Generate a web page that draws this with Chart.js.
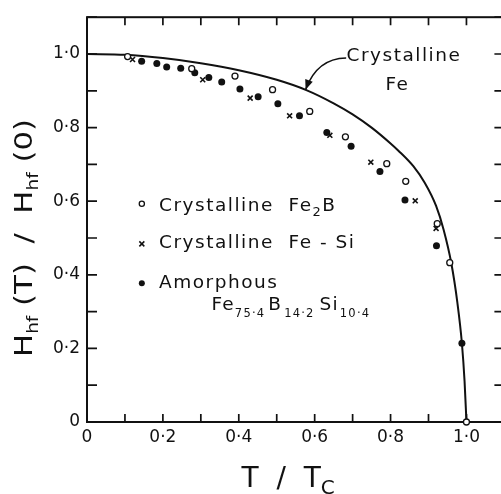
<!DOCTYPE html>
<html>
<head>
<meta charset="utf-8">
<script src="https://cdn.jsdelivr.net/npm/chart.js@4.4.1/dist/chart.umd.min.js"></script>
<style>
  html, body { margin: 0; padding: 0; background: #fff; overflow: hidden; }
  #caixa { width: 510px; height: 494px; }
</style>
</head>
<body>
<div id="caixa"><canvas id="graficoHf" width="510" height="494"></canvas></div>
<script>
// Valores (T/Tc e Hhf(T)/Hhf(0))
const fe2bT = [0.107, 0.276, 0.390, 0.489, 0.587, 0.681, 0.790, 0.840, 0.923, 0.956, 1.0];
const fe2bH = [0.993, 0.960, 0.940, 0.903, 0.844, 0.775, 0.702, 0.654, 0.539, 0.433, 0.0];

const feSiT = [0.120, 0.305, 0.430, 0.534, 0.640, 0.748, 0.865, 0.920];
const feSiH = [0.985, 0.930, 0.880, 0.832, 0.779, 0.706, 0.601, 0.526];

const amorfoT = [0.144, 0.184, 0.210, 0.247, 0.284, 0.321, 0.355, 0.403, 0.451, 0.503, 0.560, 0.632, 0.696, 0.772, 0.838, 0.921, 0.988];
const amorfoH = [0.980, 0.974, 0.965, 0.961, 0.949, 0.936, 0.924, 0.905, 0.884, 0.865, 0.832, 0.787, 0.749, 0.681, 0.603, 0.479, 0.214];

// curva do Fe cristalino
const curvaT = [0, 0.1, 0.2, 0.3, 0.4, 0.5, 0.578, 0.65, 0.70, 0.75, 0.80, 0.82, 0.86, 0.89, 0.92, 0.94, 0.96, 0.976, 0.988, 0.995, 1.0];
const curvaH = [1.0, 0.998, 0.989, 0.975, 0.956, 0.930, 0.902, 0.866, 0.836, 0.800, 0.757, 0.738, 0.695, 0.650, 0.587, 0.522, 0.432, 0.325, 0.214, 0.111, 0.0];

// rotulos dos ticks (so a cada 0.2)
const valoresRotulo = [0, 0.2, 0.4, 0.6, 0.8, 1.0];
const rotulosTick = ['0', '0·2', '0·4', '0·6', '0·8', '1·0'];

const pares = (xs, ys) => xs.map((v, i) => ({ x: v, y: ys[i] }));

const rotulo = (valor) => {
    const i = valoresRotulo.findIndex(v => Math.abs(v - valor) < 1e-6);
    return i >= 0 ? rotulosTick[i] : '';
};

const FONTE = '"DejaVu Sans", sans-serif';

// escreve texto com partes subscritas: [texto, tamanho, deslocamento, espaco antes]
function textoIndices(ctx, partes, x, y, alinhar) {
    let largura = 0;
    partes.forEach(p => {
        ctx.font = p[1] + 'px ' + FONTE;
        largura += ctx.measureText(p[0]).width + (p[3] || 0);
    });
    let cx = alinhar === 'center' ? x - largura / 2 : x;
    partes.forEach(p => {
        ctx.font = p[1] + 'px ' + FONTE;
        cx += p[3] || 0;
        ctx.fillText(p[0], cx, y + p[2]);
        cx += ctx.measureText(p[0]).width;
    });
    return largura;
}

// moldura e ticks para dentro
const moldura = {
    id: 'moldura',
    beforeDatasetsDraw(chart) {
        const { ctx, chartArea: a, scales: { x, y } } = chart;
        ctx.save();
        ctx.strokeStyle = '#111';
        ctx.lineWidth = 2;
        ctx.strokeRect(a.left, a.top, a.right - a.left, a.bottom - a.top);
        ctx.lineWidth = 1.7;
        ctx.beginPath();
        x.ticks.forEach(t => {
            const px = x.getPixelForValue(t.value);
            ctx.moveTo(px, a.bottom); ctx.lineTo(px, a.bottom - 8);
            ctx.moveTo(px, a.top); ctx.lineTo(px, a.top + 8);
        });
        y.ticks.forEach(t => {
            const py = y.getPixelForValue(t.value);
            ctx.moveTo(a.left, py); ctx.lineTo(a.left + 10, py);
            ctx.moveTo(a.right - 10, py); ctx.lineTo(a.right, py);
        });
        ctx.stroke();
        ctx.restore();
    }
};

// legenda, anotacao da curva e titulos dos eixos
const anotacoes = {
    id: 'anotacoes',
    afterDraw(chart) {
        const { ctx, scales: { x, y } } = chart;
        const X = v => x.getPixelForValue(v);
        const Y = v => y.getPixelForValue(v);
        ctx.save();
        ctx.fillStyle = '#111';
        ctx.strokeStyle = '#111';
        ctx.textBaseline = 'alphabetic';

        // legenda
        ctx.letterSpacing = '1.5px';
        const mx = X(0.1445);
        ctx.lineWidth = 1.3;
        ctx.beginPath(); ctx.arc(mx, Y(0.593), 2.6, 0, Math.PI * 2);
        ctx.fillStyle = '#fff'; ctx.fill(); ctx.stroke();
        ctx.fillStyle = '#111';
        ctx.lineWidth = 1.5;
        const cy = Y(0.484);
        ctx.beginPath();
        ctx.moveTo(mx - 2.5, cy - 2.5); ctx.lineTo(mx + 2.5, cy + 2.5);
        ctx.moveTo(mx + 2.5, cy - 2.5); ctx.lineTo(mx - 2.5, cy + 2.5);
        ctx.stroke();
        ctx.beginPath(); ctx.arc(mx, Y(0.377), 3, 0, Math.PI * 2); ctx.fill();

        const tx = X(0.19);
        textoIndices(ctx, [['Crystalline  Fe', 18.5, 0], ['2', 13, 5], ['B', 18.5, 0]], tx, Y(0.573));
        textoIndices(ctx, [['Crystalline  Fe - Si', 18.5, 0]], tx, Y(0.472));
        textoIndices(ctx, [['Amorphous', 18.5, 0]], tx, Y(0.365));
        ctx.letterSpacing = '1.2px';
        textoIndices(ctx, [['Fe', 18.5, 0], ['75·4', 11.5, 7], ['B', 18.5, 0, 3], ['14·2', 11.5, 7, 2],
            ['Si', 18.5, 0, 5], ['10·4', 11.5, 7, 1]], X(0.328), Y(0.303));

        // Crystalline Fe + seta
        ctx.letterSpacing = '1.5px';
        textoIndices(ctx, [['Crystalline', 18.5, 0]], X(0.684), Y(0.982));
        textoIndices(ctx, [['Fe', 18.5, 0]], X(0.818), Y(0.903), 'center');
        ctx.letterSpacing = '0px';
        const x0 = X(0.683), y0 = Y(0.989);
        const xc = X(0.606), yc = Y(0.988);
        const x1 = X(0.576), y1 = Y(0.903);
        ctx.lineWidth = 1.5;
        ctx.beginPath(); ctx.moveTo(x0, y0); ctx.quadraticCurveTo(xc, yc, x1, y1); ctx.stroke();
        const ang = Math.atan2(y1 - yc, x1 - xc);
        ctx.beginPath();
        ctx.moveTo(x1, y1);
        ctx.lineTo(x1 - 10 * Math.cos(ang) + 4 * Math.sin(ang), y1 - 10 * Math.sin(ang) - 4 * Math.cos(ang));
        ctx.lineTo(x1 - 10 * Math.cos(ang) - 4 * Math.sin(ang), y1 - 10 * Math.sin(ang) + 4 * Math.cos(ang));
        ctx.closePath(); ctx.fill();

        // titulo do eixo x
        textoIndices(ctx, [['T  /  T', 28, 0], ['C', 20, 7]], X(0.53), 486.5, 'center');

        // titulo do eixo y (girado)
        ctx.translate(31.5, Y(0.5));
        ctx.rotate(-Math.PI / 2);
        ctx.scale(1.23, 1);
        textoIndices(ctx, [['H', 25, 0], ['hf', 15, 6], [' (T)  /  H', 25, 0], ['hf', 15, 6], [' (0)', 25, 0]], 0, 0, 'center');
        ctx.restore();
    }
};

const ctx = document.getElementById('graficoHf').getContext('2d');

const grafico = new Chart(ctx, {
    type: 'scatter',
    data: {
        datasets: [
            {
                label: 'Crystalline Fe',
                data: pares(curvaT, curvaH),
                showLine: true,
                borderColor: '#111',
                borderWidth: 2,
                pointRadius: 0,
                cubicInterpolationMode: 'monotone',
                clip: false,
                order: 4
            },
            {
                label: 'Amorphous Fe75.4 B14.2 Si10.4',
                data: pares(amorfoT, amorfoH),
                pointStyle: 'circle',
                pointRadius: 3.5,
                backgroundColor: '#111',
                borderColor: '#111',
                borderWidth: 0,
                clip: false,
                order: 3
            },
            {
                label: 'Crystalline Fe-Si',
                data: pares(feSiT, feSiH),
                pointStyle: 'crossRot',
                pointRadius: 3.5,
                borderColor: '#111',
                borderWidth: 1.6,
                clip: false,
                order: 2
            },
            {
                label: 'Crystalline Fe2B',
                data: pares(fe2bT, fe2bH),
                pointStyle: 'circle',
                pointRadius: 3,
                backgroundColor: '#fff',
                borderColor: '#111',
                borderWidth: 1.3,
                clip: false,
                order: 1
            }
        ]
    },
    options: {
        responsive: false,
        animation: false,
        layout: { padding: { top: 10, right: 5, left: 0, bottom: 0 } },
        plugins: {
            legend: { display: false },
            tooltip: { enabled: false }
        },
        scales: {
            x: {
                type: 'linear',
                min: 0,
                max: 1.1,
                grid: { display: false, drawTicks: false },
                border: { display: false },
                afterFit: s => { s.height = 72; },
                ticks: {
                    stepSize: 0.1,
                    autoSkip: false,
                    maxRotation: 0,
                    padding: 5,
                    color: '#111',
                    font: { family: FONTE, size: 17 },
                    callback: v => rotulo(v)
                }
            },
            y: {
                type: 'linear',
                min: 0,
                max: 1.1,
                grid: { display: false, drawTicks: false },
                border: { display: false },
                afterFit: s => { s.width = 87; },
                ticks: {
                    stepSize: 0.1,
                    autoSkip: false,
                    padding: 7,
                    color: '#111',
                    font: { family: FONTE, size: 17 },
                    callback: v => rotulo(v)
                }
            }
        }
    },
    plugins: [moldura, anotacoes]
});
</script>
</body>
</html>
